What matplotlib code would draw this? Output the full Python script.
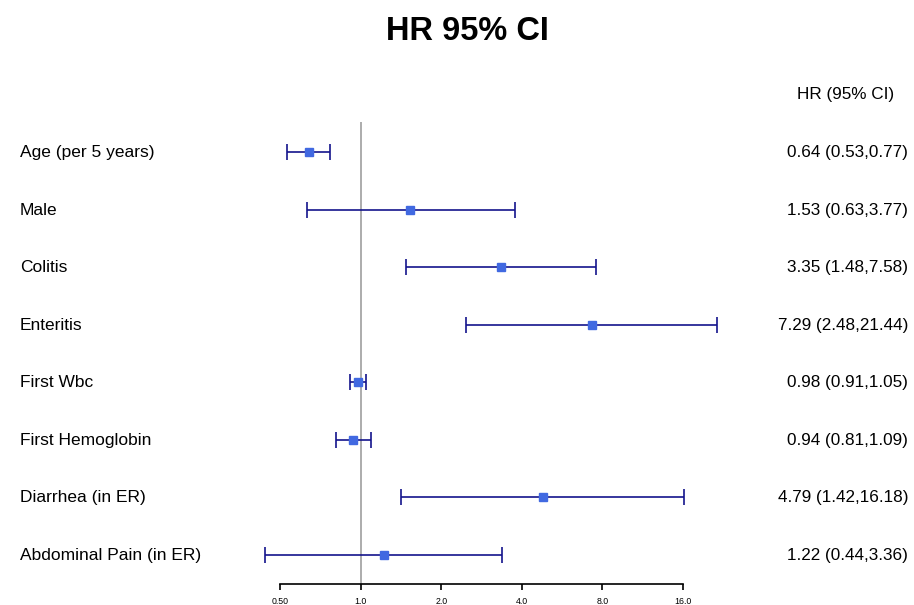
import matplotlib
matplotlib.use("Agg")
import matplotlib.pyplot as plt
import matplotlib.transforms as mtransforms
import numpy as np

plt.rcParams['font.family'] = ['Liberation Sans', 'DejaVu Sans']

# forest plot data
labels = ["Age (per 5 years)", "Male", "Colitis", "Enteritis", "First Wbc",
          "First Hemoglobin", "Diarrhea (in ER)", "Abdominal Pain (in ER)"]
hr = [0.64, 1.53, 3.35, 7.29, 0.98, 0.94, 4.79, 1.22]
lower = [0.53, 0.63, 1.48, 2.48, 0.91, 0.81, 1.42, 0.44]
upper = [0.77, 3.77, 7.58, 21.44, 1.05, 1.09, 16.18, 3.36]
tick_vals = [0.5, 1, 2, 4, 8, 16]
tick_labels = ["0.50", "1.0", "2.0", "4.0", "8.0", "16.0"]

W, H = 914, 605
fig = plt.figure(figsize=(W / 100, H / 100), dpi=100)

# axes placed in pixels; 0.5 sits at x=280, one doubling = 80.6 px
ax_left, ax_right = 230, 760
ax_top, ax_bottom = 100, 584
ax = fig.add_axes([ax_left / W, 1 - ax_bottom / H,
                   (ax_right - ax_left) / W, (ax_bottom - ax_top) / H])
ax.set_xscale("log", base=2)
px_per_dbl = 80.6
ax.set_xlim(0.5 * 2 ** ((ax_left - 280) / px_per_dbl),
            0.5 * 2 ** ((ax_right - 280) / px_per_dbl))

n = len(labels)
ypos = np.arange(n, 0, -1)
row_px = 57.5
y_bot = 1 - (ax_bottom - 555) / row_px
y_top = n + (152 - ax_top) / row_px
ax.set_ylim(y_bot, y_top)

hr_a = np.array(hr)
err = [hr_a - np.array(lower), np.array(upper) - hr_a]

ax.vlines(1, y_bot, n + (152 - 122) / row_px, color="#a6a6a6", lw=1.3, zorder=1)
ax.errorbar(hr_a, ypos, xerr=err, fmt="s", color="#4169e1", ms=5.8,
            ecolor="#14148c", elinewidth=1.2, capsize=6, capthick=1.2, zorder=2)

for s in ["top", "right", "left"]:
    ax.spines[s].set_visible(False)
ax.spines["bottom"].set_bounds(0.5, 16)
ax.spines["bottom"].set_linewidth(1.2)
ax.set_yticks([])
ax.set_xticks(tick_vals)
ax.set_xticklabels(tick_labels, fontsize=6.3)
ax.xaxis.set_minor_locator(matplotlib.ticker.NullLocator())
ax.tick_params(axis="x", length=4, width=1.2, pad=5.5)

trans = mtransforms.blended_transform_factory(fig.transFigure, ax.transData)
for i in range(n):
    ax.text(20 / W, ypos[i] - 0.01, labels[i], transform=trans, ha="left", va="center",
            fontsize=12.5, clip_on=False)
    txt = "%.2f (%.2f,%.2f)" % (hr[i], lower[i], upper[i])
    ax.text(908 / W, ypos[i] - 0.01, txt, transform=trans, ha="right", va="center",
            fontsize=12.3, clip_on=False)

fig.text(846 / W, 1 - 95 / H, "HR (95% CI)", ha="center", va="center", fontsize=12.3)
fig.text(467 / W, 1 - 31 / H, "HR 95% CI", ha="center", va="center",
         fontsize=23.5, fontweight="bold")

fig.savefig("out.png", dpi=100)
